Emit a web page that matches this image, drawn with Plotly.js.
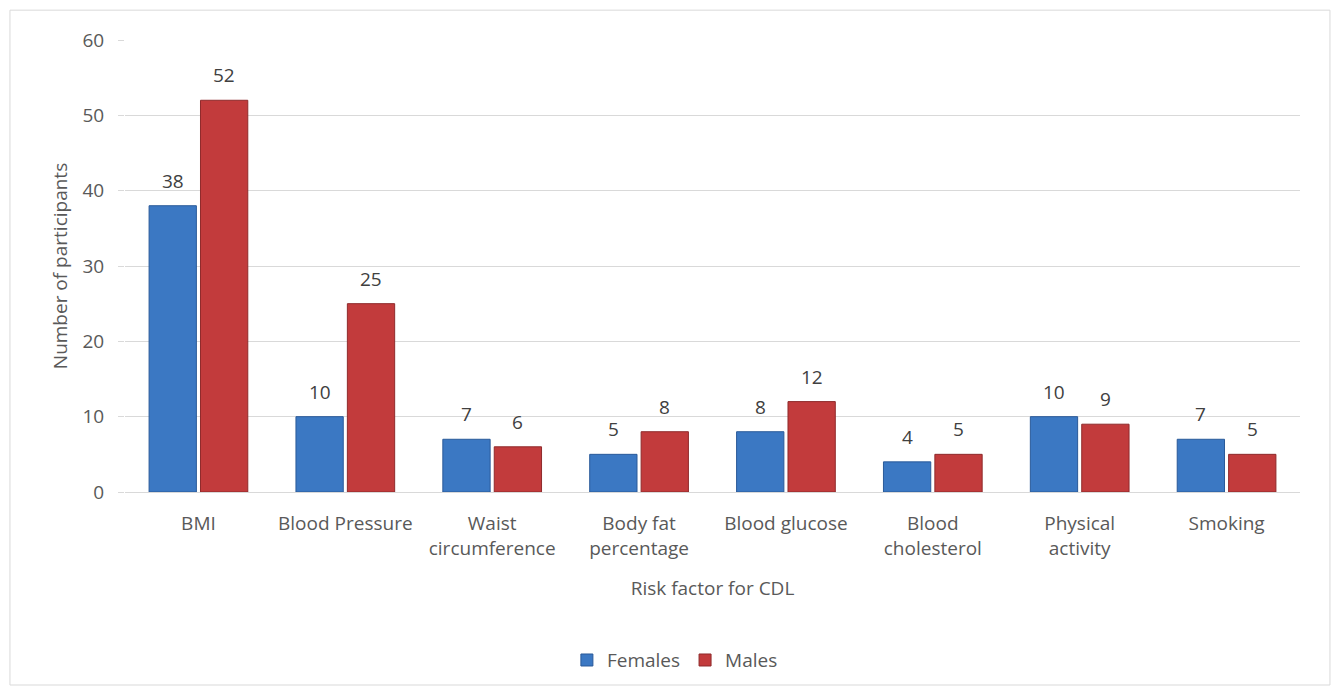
<!DOCTYPE html>
<html>
<head>
<meta charset="utf-8">
<script src="https://cdn.plot.ly/plotly-3.0.1.min.js"></script>
<style>html,body{margin:0;padding:0;background:#fff;}#chart{width:1333px;height:693px;}</style>
</head>
<body>
<div id="chart"></div>
<script>
const categories = ["BMI", "Blood Pressure", "Waist<br>circumference", "Body fat<br>percentage", "Blood glucose", "Blood<br>cholesterol", "Physical<br>activity", "Smoking"];
const females = [38, 10, 7, 5, 8, 4, 10, 7];
const males = [52, 25, 6, 8, 12, 5, 9, 5];
const yTicks = [0, 10, 20, 30, 40, 50, 60];

const fontFam = "'Open Sans', Lato, sans-serif";
const txt = "#595959";
const traces = [
  {type: "bar", name: "Females", x: categories, y: females,
   marker: {color: "#3b78c3", line: {color: "#2a5a99", width: 1}}},
  {type: "bar", name: "Males", x: categories, y: males,
   marker: {color: "#c23b3c", line: {color: "#8f2a2b", width: 1}}}
];

// data labels placed through the axes' own scales, offset to each bar of the group
const groupShift = 25.7;
const annotations = [];
[[females, -groupShift], [males, groupShift]].forEach(([vals, dx]) => {
  vals.forEach((v, i) => {
    annotations.push({x: categories[i], y: v, xref: "x", yref: "y", text: String(v),
      showarrow: false, xshift: dx, yshift: 10, yanchor: "bottom",
      font: {family: fontFam, size: 19, color: "#404040"}});
  });
});

const layout = {
  width: 1333, height: 693,
  margin: {l: 125, r: 33, t: 40, b: 201},
  paper_bgcolor: "#fff", plot_bgcolor: "#fff",
  barmode: "group", bargap: 0.3, bargroupgap: 0.08,
  font: {family: fontFam, size: 19, color: txt},
  showlegend: true,
  legend: {orientation: "h", x: 0.468, xanchor: "center", y: -0.372, yanchor: "middle",
           font: {family: fontFam, size: 19, color: txt}, itemwidth: 30, traceorder: "normal"},
  xaxis: {type: "category", tickfont: {family: fontFam, size: 19, color: txt},
          showline: true, linecolor: "#d9d9d9", linewidth: 1, ticks: "", showgrid: false,
          ticklabelstandoff: 14,
          title: {text: "Risk factor for CDL", font: {family: fontFam, size: 19, color: txt}, standoff: 22}},
  yaxis: {range: [0, 60], tickvals: yTicks, ticktext: yTicks.map(String),
          showgrid: true, gridcolor: "#d9d9d9", gridwidth: 1, zeroline: false,
          tickfont: {family: fontFam, size: 19, color: txt},
          ticks: "outside", ticklen: 6, tickcolor: "#d9d9d9", ticklabelstandoff: 10,
          title: {text: "Number of participants", font: {family: fontFam, size: 19, color: txt}, standoff: 9}},
  annotations: annotations,
  shapes: [{type: "rect", xref: "paper", yref: "paper", x0: -0.0979, x1: 1.0255, y0: -0.427, y1: 1.066,
            line: {color: "#d9d9d9", width: 1}, fillcolor: "rgba(0,0,0,0)", layer: "below"}]
};

Plotly.newPlot("chart", traces, layout, {displayModeBar: false, staticPlot: true});
</script>
</body>
</html>
